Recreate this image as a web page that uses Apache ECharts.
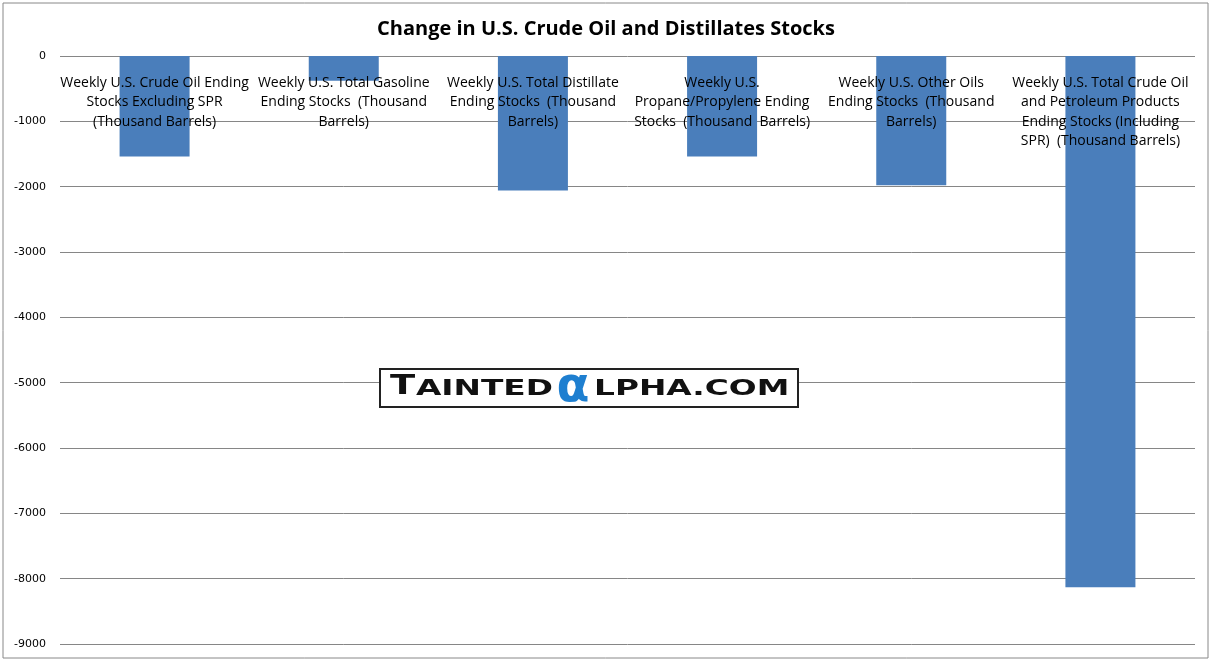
<!DOCTYPE html>
<html>
<head>
<meta charset="utf-8">
<script src="https://cdn.jsdelivr.net/npm/echarts@6/dist/echarts.min.js"></script>
<style>
html,body{margin:0;padding:0;background:#fff;}
#c{width:1212px;height:662px;}
</style>
</head>
<body>
<div id="c"></div>
<script>
const titleText = 'Change in U.S. Crude Oil and Distillates Stocks';
const categories = [
  'Weekly U.S. Crude Oil Ending\nStocks Excluding SPR\n(Thousand Barrels)',
  'Weekly U.S. Total Gasoline\nEnding Stocks  (Thousand\nBarrels)',
  'Weekly U.S. Total Distillate\nEnding Stocks  (Thousand\nBarrels)',
  'Weekly U.S.\nPropane/Propylene Ending\nStocks  (Thousand  Barrels)',
  'Weekly U.S. Other Oils\nEnding Stocks  (Thousand\nBarrels)',
  'Weekly U.S. Total Crude Oil\nand Petroleum Products\nEnding Stocks (Including\nSPR)  (Thousand Barrels)'
];
const values = [-1540, -380, -2060, -1540, -1980, -8130];
const yMin = -9000, yMax = 0, yStep = 1000;

const wmFont = 'DejaVu Sans';
const chart = echarts.init(document.getElementById('c'), null, {renderer: 'canvas'});
chart.setOption({
  backgroundColor: '#fff',
  animation: false,
  title: {
    text: titleText,
    left: 'center',
    top: 14,
    textStyle: {fontFamily: 'Open Sans', fontWeight: 'bold', fontSize: 20, color: '#000'}
  },
  grid: {left: 60, right: 17, top: 56, bottom: 18, containLabel: false, outerBoundsMode: 'none'},
  xAxis: {
    type: 'category',
    data: categories,
    position: 'top',
    z: 10,
    axisLine: {show: false},
    axisTick: {show: false},
    axisLabel: {
      inside: true,
      interval: 0,
      margin: 17,
      fontFamily: 'Open Sans',
      fontSize: 14,
      lineHeight: 19.5,
      color: '#000',
      align: 'center',
      verticalAlign: 'top'
    }
  },
  yAxis: {
    type: 'value',
    min: yMin, max: yMax, interval: yStep,
    axisLine: {show: false},
    axisTick: {show: false},
    splitLine: {lineStyle: {color: '#868686', width: 1}},
    axisLabel: {
      margin: 14, fontFamily: 'DejaVu Sans', fontSize: 11, color: '#000',
      formatter: function (v) { return String(v); }
    }
  },
  series: [{
    type: 'bar',
    data: values,
    barWidth: 70,
    itemStyle: {color: '#4a7ebb'}
  }],
  graphic: [
    {type: 'rect', shape: {x: 3, y: 3, width: 1205, height: 655}, style: {fill: 'none', stroke: '#888', lineWidth: 1}, z: 100, silent: true},
    {type: 'rect', shape: {x: 380, y: 369, width: 418, height: 38}, style: {fill: '#fff', stroke: '#222', lineWidth: 2}, z: 100},
    {type: 'text', x: 390, y: 387, scaleX: 1.42, z: 101,
      style: {text: 'T', align: 'left', verticalAlign: 'middle', fontFamily: wmFont, fontSize: 26, fontWeight: 'bold', fill: '#111'}},
    {type: 'text', x: 416, y: 389, scaleX: 1.49, z: 101,
      style: {text: 'AINTED', align: 'left', verticalAlign: 'middle', fontFamily: wmFont, fontSize: 22, fontWeight: 'bold', fill: '#111'}},
    {type: 'text', x: 573, y: 389, z: 101,
      style: {text: 'α', align: 'center', verticalAlign: 'middle', fontFamily: wmFont, fontSize: 48, fontWeight: 'bold', fill: '#1e7fd0'}},
    {type: 'text', x: 594, y: 389, scaleX: 1.49, z: 101,
      style: {text: 'LPHA.COM', align: 'left', verticalAlign: 'middle', fontFamily: wmFont, fontSize: 22, fontWeight: 'bold', fill: '#111'}}
  ]
});
</script>
</body>
</html>
